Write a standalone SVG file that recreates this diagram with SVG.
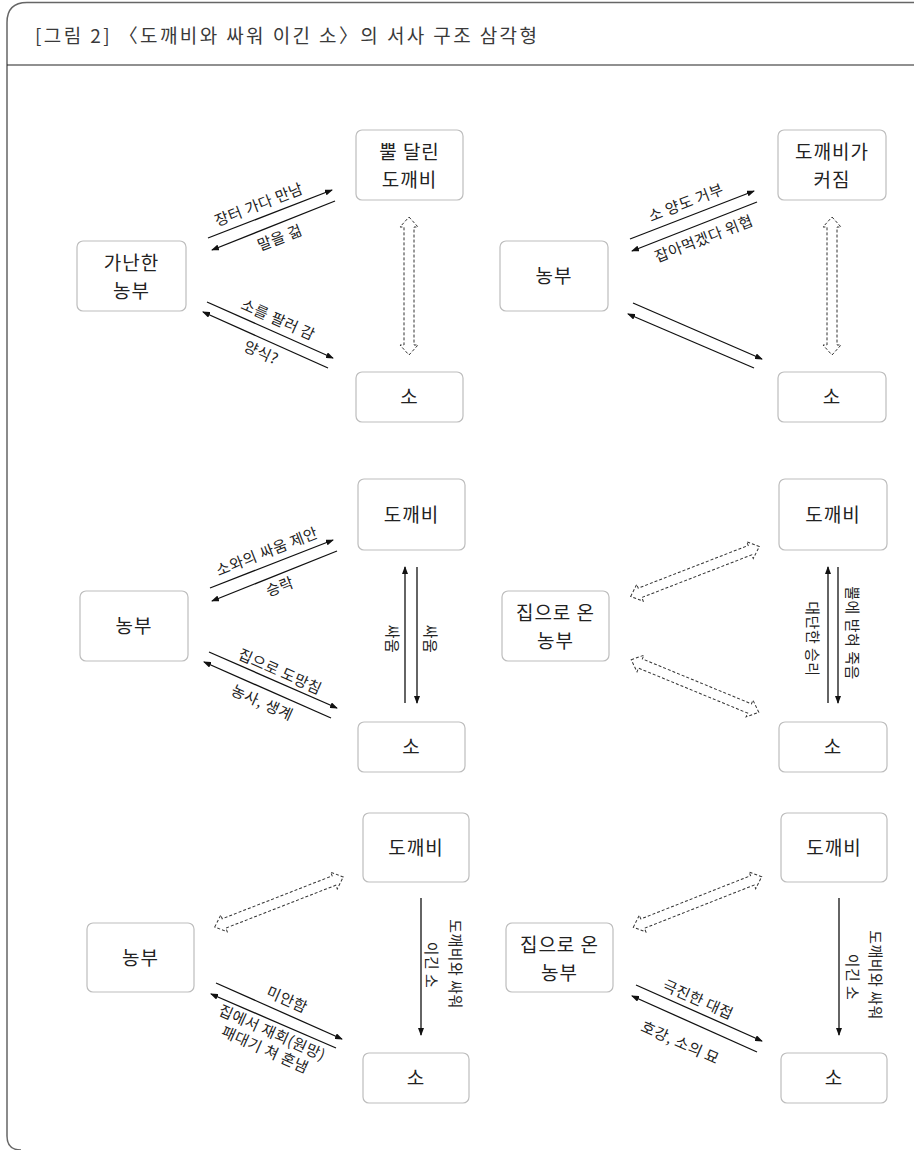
<svg xmlns="http://www.w3.org/2000/svg" width="914" height="1150" viewBox="0 0 914 1150">
<style>
text{font-family:"Noto Sans CJK KR","Noto Sans",sans-serif;fill:#222}
.hdr{font-size:19px;fill:#3a3a3a;letter-spacing:2.4px}
.node text{font-size:19px;text-anchor:middle;letter-spacing:1px}
.node rect{fill:#fff;stroke:#bdbdbd;stroke-width:1.2}
.lbl{font-size:15px;text-anchor:middle;letter-spacing:0.5px}
.ln{stroke:#111;stroke-width:1.3;fill:none;marker-end:url(#ah)}
.dash{fill:#fff;stroke:#333;stroke-width:1;stroke-dasharray:3 2}
</style>
<defs>
<marker id="ah" markerWidth="8" markerHeight="6" refX="7" refY="3" orient="auto" markerUnits="userSpaceOnUse">
<path d="M0,0 L8,3 L0,6 z" fill="#111"/>
</marker>
<path id="dd" d="M-69,0 L-59,-9 L-59,-5 L59,-5 L59,-9 L69,0 L59,9 L59,5 L-59,5 L-59,9 Z"/>
</defs>
<g id="frame">
<path d="M914,2.5 L27,2.5 Q7,2.5 7,22.5 L7,1136 Q7,1150 21,1150" fill="none" stroke="#666" stroke-width="1.5"/>
<line x1="7" y1="65" x2="914" y2="65" stroke="#222" stroke-width="1.2"/>
<text class="hdr" x="35" y="43">[그림 2]  〈도깨비와 싸워 이긴 소〉의 서사 구조 삼각형</text>
</g>
<g id="connectors">
<line class="ln" x1="208" y1="238" x2="332" y2="190"/>
<line class="ln" x1="335" y1="201" x2="212" y2="250"/>
<line class="ln" x1="207" y1="302" x2="333" y2="358"/>
<line class="ln" x1="328" y1="368" x2="203" y2="312"/>
<use href="#dd" class="dash" transform="translate(409,286) rotate(90)"/>
<line class="ln" x1="630" y1="239" x2="754" y2="191"/>
<line class="ln" x1="757" y1="202" x2="632" y2="251"/>
<line class="ln" x1="633" y1="303" x2="762" y2="359"/>
<line class="ln" x1="754" y1="368" x2="628" y2="314"/>
<use href="#dd" class="dash" transform="translate(832,286) rotate(90)"/>
<line class="ln" x1="210" y1="588" x2="333" y2="540"/>
<line class="ln" x1="337" y1="551" x2="212" y2="601"/>
<line class="ln" x1="209" y1="652" x2="337" y2="708"/>
<line class="ln" x1="331" y1="718" x2="204" y2="662"/>
<line class="ln" x1="405" y1="703" x2="405" y2="567"/>
<line class="ln" x1="417" y1="567" x2="417" y2="703"/>
<use href="#dd" class="dash" transform="translate(695,571.5) rotate(-21.2)"/>
<use href="#dd" class="dash" transform="translate(695,686) rotate(22.4)"/>
<line class="ln" x1="828" y1="703" x2="828" y2="567"/>
<line class="ln" x1="838" y1="567" x2="838" y2="703"/>
<use href="#dd" class="dash" transform="translate(279,902) rotate(-21.3)"/>
<line class="ln" x1="216" y1="983" x2="342" y2="1039"/>
<line class="ln" x1="336" y1="1048" x2="211" y2="994"/>
<line class="ln" x1="421" y1="898" x2="421" y2="1035"/>
<use href="#dd" class="dash" transform="translate(697.5,902) rotate(-21.5)"/>
<line class="ln" x1="636" y1="985" x2="762" y2="1041"/>
<line class="ln" x1="757" y1="1052" x2="632" y2="996"/>
<line class="ln" x1="839" y1="898" x2="839" y2="1035"/>
</g>
<g id="edge-labels">
<text class="lbl" transform="translate(259,205) rotate(-21.2)" y="5">장터 가다 만남</text>
<text class="lbl" transform="translate(280,238) rotate(-21.2)" y="5">말을 걺</text>
<text class="lbl" transform="translate(278,320) rotate(24)" y="5">소를 팔러 감</text>
<text class="lbl" transform="translate(261,353) rotate(24)" y="5">양식?</text>
<text class="lbl" transform="translate(686,203) rotate(-21.2)" y="5">소 양도 거부</text>
<text class="lbl" transform="translate(704,239) rotate(-21.2)" y="5">잡아먹겠다 위협</text>
<text class="lbl" transform="translate(267,552) rotate(-21.2)" y="5">소와의 싸움 제안</text>
<text class="lbl" transform="translate(280,587) rotate(-21.2)" y="5">승락</text>
<text class="lbl" transform="translate(280,672) rotate(24)" y="5">집으로 도망침</text>
<text class="lbl" transform="translate(262,703) rotate(24)" y="5">농사, 생계</text>
<text class="lbl" transform="translate(392,639) rotate(90)" y="5">싸움</text>
<text class="lbl" transform="translate(430,639) rotate(90)" y="5">싸움</text>
<text class="lbl" transform="translate(812,639) rotate(90)" y="5">대단한 승리</text>
<text class="lbl" transform="translate(852,633) rotate(90)" y="5">뿔에 받혀 죽음</text>
<text class="lbl" transform="translate(287,1000) rotate(24)" y="5">미안함</text>
<text class="lbl" transform="translate(272,1033) rotate(24)" y="5">집에서 재회(원망)</text>
<text class="lbl" transform="translate(265,1050) rotate(24)" y="5">패대기 쳐 혼냄</text>
<text class="lbl" transform="translate(455,964) rotate(90)" y="5">도깨비와 싸워</text>
<text class="lbl" transform="translate(431,965) rotate(90)" y="5">이긴 소</text>
<text class="lbl" transform="translate(698,1000) rotate(24)" y="5">극진한 대접</text>
<text class="lbl" transform="translate(680,1043) rotate(24)" y="5">호강, 소의 묘</text>
<text class="lbl" transform="translate(875,975) rotate(90)" y="5">도깨비와 싸워</text>
<text class="lbl" transform="translate(852,977) rotate(90)" y="5">이긴 소</text>
</g>
<g id="p1-dokkaebi" class="node"><rect x="356" y="130" width="107" height="70" rx="6"/><text x="409.5" y="159">뿔 달린</text><text x="409.5" y="187">도깨비</text></g>
<g id="p1-nongbu" class="node"><rect x="77" y="241" width="109" height="70" rx="6"/><text x="131.5" y="270">가난한</text><text x="131.5" y="298">농부</text></g>
<g id="p1-so" class="node"><rect x="356" y="372" width="107" height="50" rx="6"/><text x="409.5" y="404">소</text></g>
<g id="p2-dokkaebi" class="node"><rect x="778" y="130" width="108" height="70" rx="6"/><text x="832" y="159">도깨비가</text><text x="832" y="187">커짐</text></g>
<g id="p2-nongbu" class="node"><rect x="500" y="241" width="108" height="70" rx="6"/><text x="554" y="283">농부</text></g>
<g id="p2-so" class="node"><rect x="778" y="372" width="108" height="50" rx="6"/><text x="832" y="404">소</text></g>
<g id="p3-dokkaebi" class="node"><rect x="358" y="479" width="107" height="71" rx="6"/><text x="411.5" y="522">도깨비</text></g>
<g id="p3-nongbu" class="node"><rect x="80" y="591" width="108" height="70" rx="6"/><text x="134" y="633">농부</text></g>
<g id="p3-so" class="node"><rect x="358" y="722" width="107" height="50" rx="6"/><text x="411.5" y="754">소</text></g>
<g id="p4-dokkaebi" class="node"><rect x="779" y="479" width="108" height="71" rx="6"/><text x="833" y="522">도깨비</text></g>
<g id="p4-nongbu" class="node"><rect x="502" y="591" width="107" height="70" rx="6"/><text x="555.5" y="620">집으로 온</text><text x="555.5" y="648">농부</text></g>
<g id="p4-so" class="node"><rect x="779" y="722" width="108" height="50" rx="6"/><text x="833" y="754">소</text></g>
<g id="p5-dokkaebi" class="node"><rect x="363" y="813" width="106" height="69" rx="6"/><text x="416" y="855">도깨비</text></g>
<g id="p5-nongbu" class="node"><rect x="87" y="923" width="107" height="69" rx="6"/><text x="140.5" y="965">농부</text></g>
<g id="p5-so" class="node"><rect x="363" y="1053" width="106" height="50" rx="6"/><text x="416" y="1085">소</text></g>
<g id="p6-dokkaebi" class="node"><rect x="781" y="813" width="106" height="69" rx="6"/><text x="834" y="855">도깨비</text></g>
<g id="p6-nongbu" class="node"><rect x="506" y="923" width="107" height="69" rx="6"/><text x="559.5" y="952">집으로 온</text><text x="559.5" y="980">농부</text></g>
<g id="p6-so" class="node"><rect x="781" y="1053" width="106" height="50" rx="6"/><text x="834" y="1085">소</text></g>
</svg>
